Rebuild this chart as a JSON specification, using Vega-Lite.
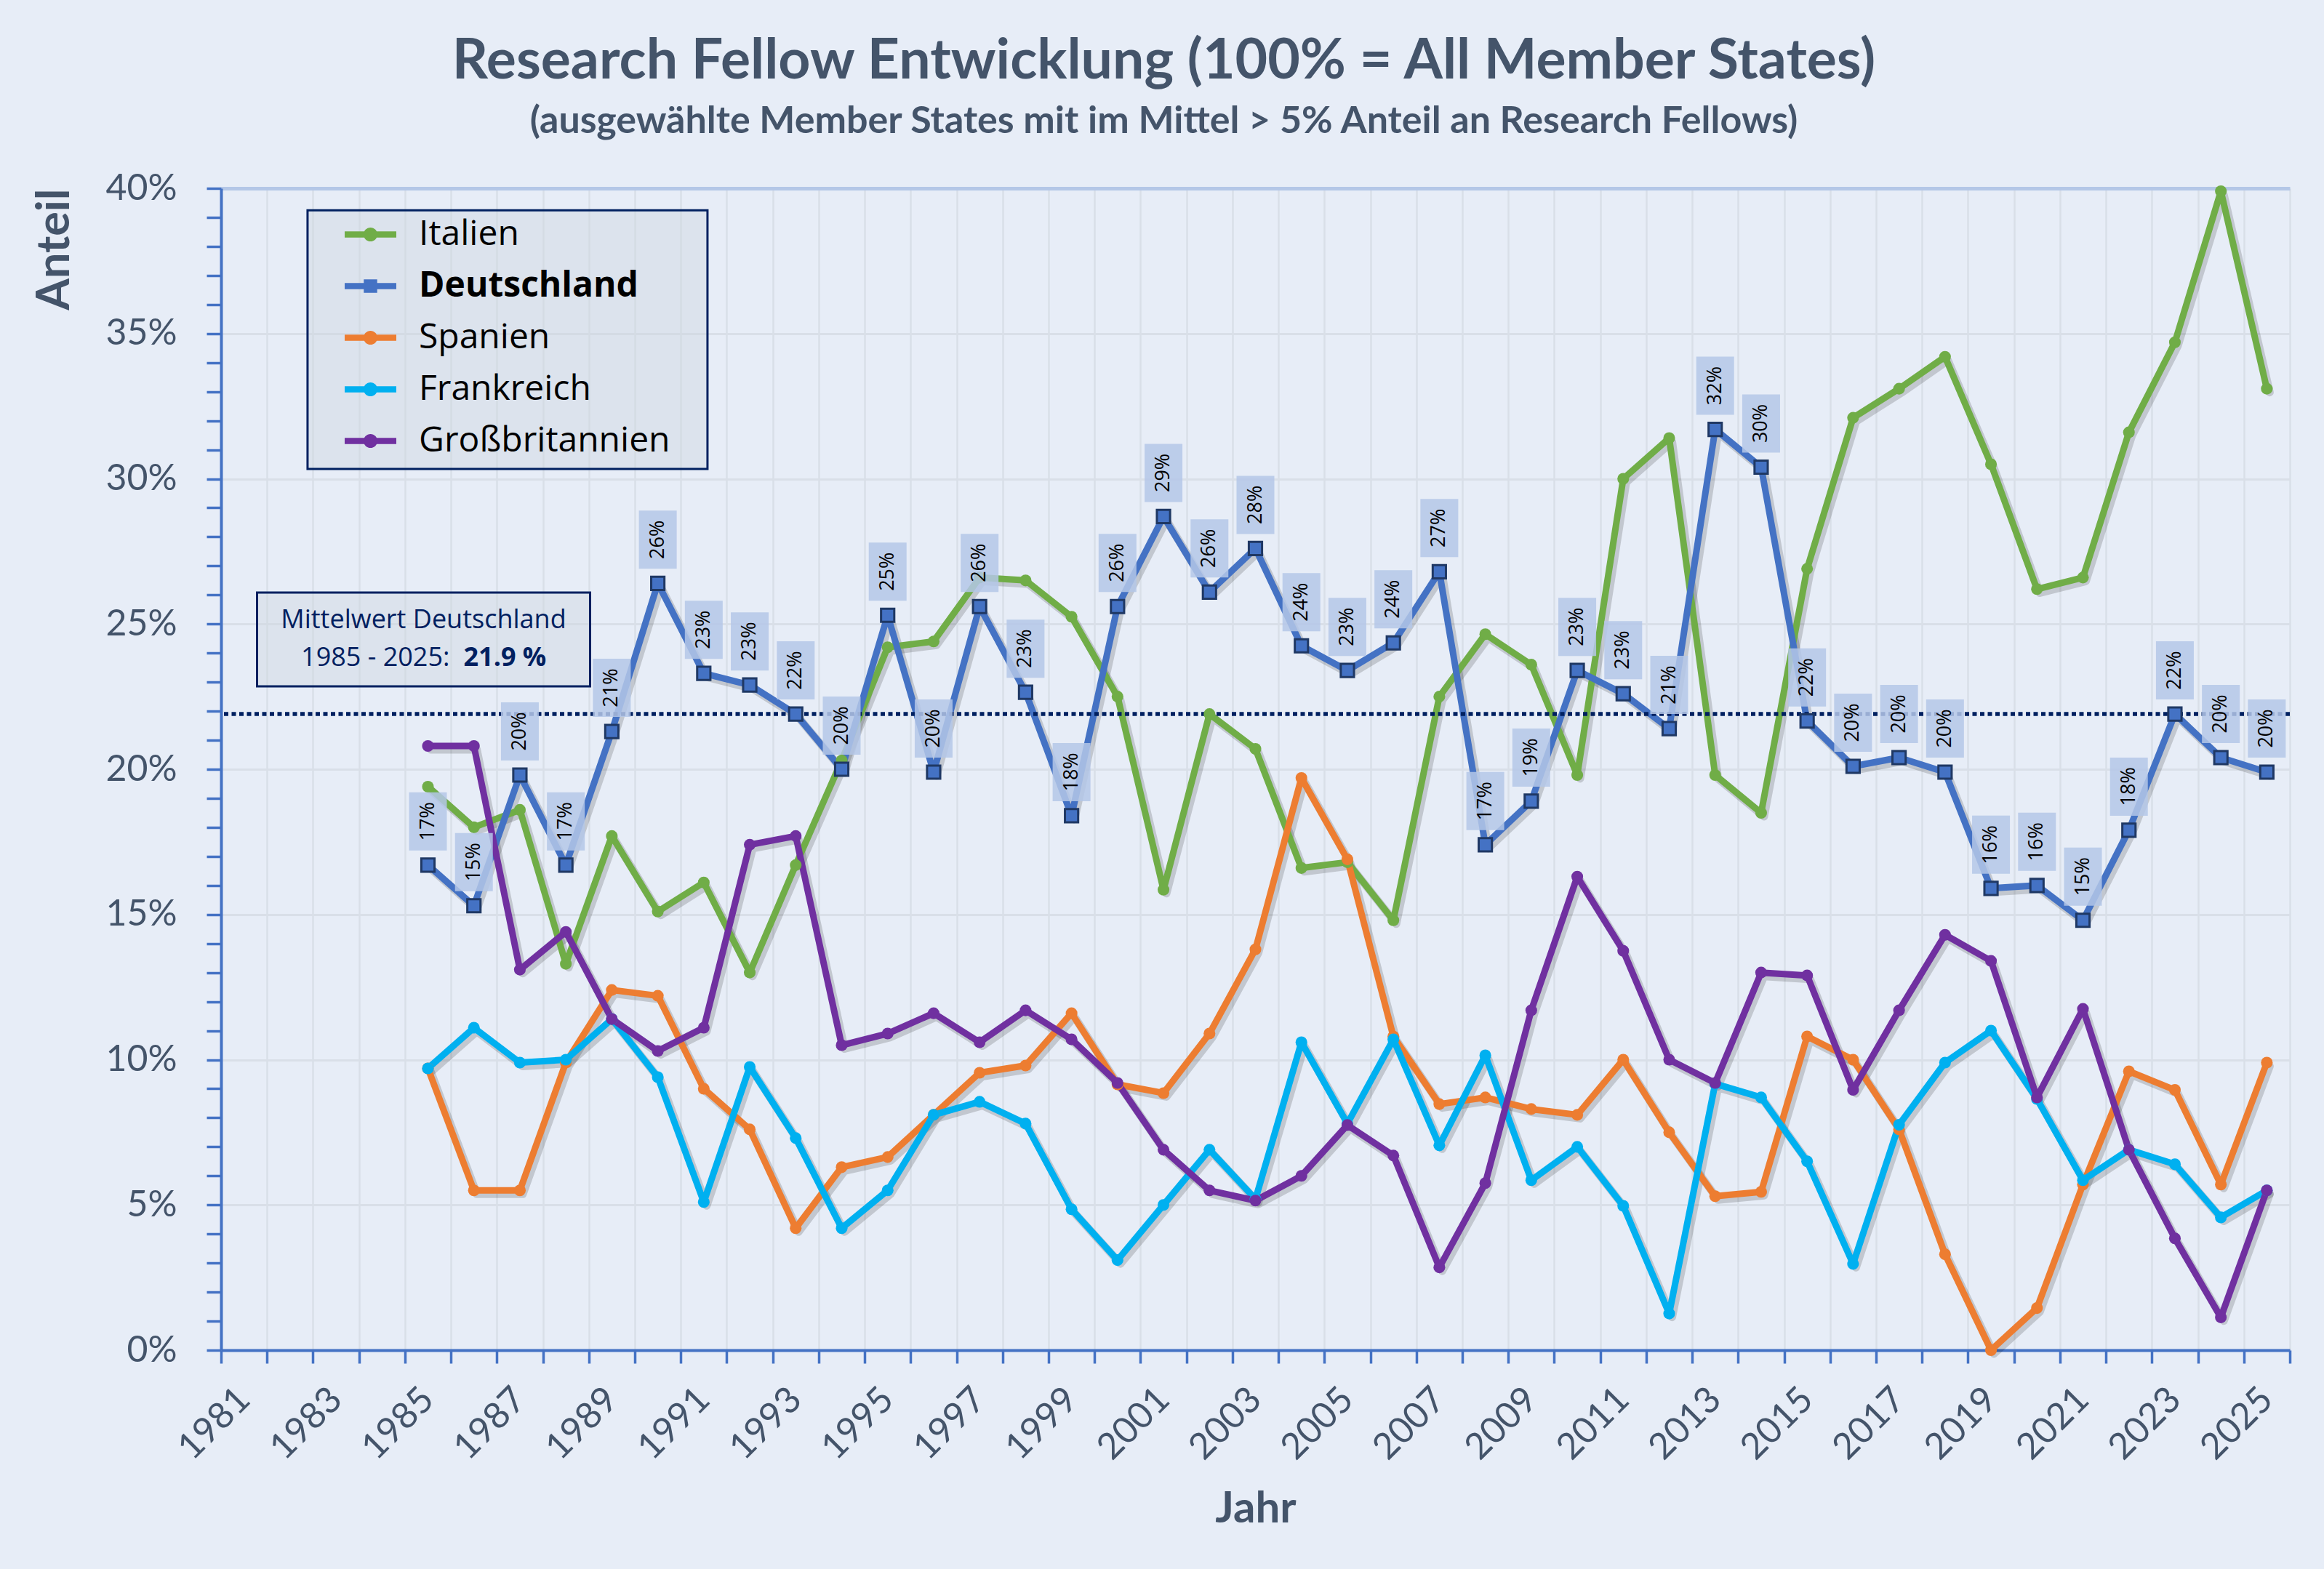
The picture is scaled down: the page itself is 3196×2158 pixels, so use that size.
{
  "$schema": "https://vega.github.io/schema/vega-lite/v6.json",
  "autosize": {"type": "none"},
  "width": 2845,
  "height": 1598,
  "padding": {"left": 304, "top": 259, "right": 47, "bottom": 301},
  "background": "#E7EDF7",
  "title": {
    "text": "Research Fellow Entwicklung (100% = All Member States)",
    "subtitle": "(ausgewählte Member States mit im Mittel > 5% Anteil an Research Fellows)",
    "font": "Lato", "fontSize": 77, "fontWeight": "bold", "color": "#44546A",
    "subtitleFont": "Lato", "subtitleFontSize": 52, "subtitleFontWeight": "bold", "subtitleColor": "#44546A",
    "anchor": "middle", "frame": "group", "dx": -126, "offset": 40, "subtitlePadding": 18
  },
  "datasets": {
    "d": [
      {"year":1985,"c":"Italien","v":0.194},{"year":1986,"c":"Italien","v":0.180},{"year":1987,"c":"Italien","v":0.186},{"year":1988,"c":"Italien","v":0.133},{"year":1989,"c":"Italien","v":0.177},{"year":1990,"c":"Italien","v":0.151},{"year":1991,"c":"Italien","v":0.161},{"year":1992,"c":"Italien","v":0.130},{"year":1993,"c":"Italien","v":0.167},{"year":1994,"c":"Italien","v":0.203},{"year":1995,"c":"Italien","v":0.242},{"year":1996,"c":"Italien","v":0.244},{"year":1997,"c":"Italien","v":0.266},{"year":1998,"c":"Italien","v":0.265},{"year":1999,"c":"Italien","v":0.2525},{"year":2000,"c":"Italien","v":0.225},{"year":2001,"c":"Italien","v":0.1585},{"year":2002,"c":"Italien","v":0.219},{"year":2003,"c":"Italien","v":0.207},{"year":2004,"c":"Italien","v":0.166},{"year":2005,"c":"Italien","v":0.168},{"year":2006,"c":"Italien","v":0.148},{"year":2007,"c":"Italien","v":0.225},{"year":2008,"c":"Italien","v":0.2465},{"year":2009,"c":"Italien","v":0.236},{"year":2010,"c":"Italien","v":0.198},{"year":2011,"c":"Italien","v":0.300},{"year":2012,"c":"Italien","v":0.314},{"year":2013,"c":"Italien","v":0.198},{"year":2014,"c":"Italien","v":0.185},{"year":2015,"c":"Italien","v":0.269},{"year":2016,"c":"Italien","v":0.321},{"year":2017,"c":"Italien","v":0.331},{"year":2018,"c":"Italien","v":0.342},{"year":2019,"c":"Italien","v":0.305},{"year":2020,"c":"Italien","v":0.262},{"year":2021,"c":"Italien","v":0.266},{"year":2022,"c":"Italien","v":0.316},{"year":2023,"c":"Italien","v":0.347},{"year":2024,"c":"Italien","v":0.399},{"year":2025,"c":"Italien","v":0.331},
      {"year":1985,"c":"Deutschland","v":0.167},{"year":1986,"c":"Deutschland","v":0.153},{"year":1987,"c":"Deutschland","v":0.198},{"year":1988,"c":"Deutschland","v":0.167},{"year":1989,"c":"Deutschland","v":0.213},{"year":1990,"c":"Deutschland","v":0.264},{"year":1991,"c":"Deutschland","v":0.233},{"year":1992,"c":"Deutschland","v":0.229},{"year":1993,"c":"Deutschland","v":0.219},{"year":1994,"c":"Deutschland","v":0.200},{"year":1995,"c":"Deutschland","v":0.253},{"year":1996,"c":"Deutschland","v":0.199},{"year":1997,"c":"Deutschland","v":0.256},{"year":1998,"c":"Deutschland","v":0.2265},{"year":1999,"c":"Deutschland","v":0.184},{"year":2000,"c":"Deutschland","v":0.256},{"year":2001,"c":"Deutschland","v":0.287},{"year":2002,"c":"Deutschland","v":0.261},{"year":2003,"c":"Deutschland","v":0.276},{"year":2004,"c":"Deutschland","v":0.2425},{"year":2005,"c":"Deutschland","v":0.234},{"year":2006,"c":"Deutschland","v":0.2435},{"year":2007,"c":"Deutschland","v":0.268},{"year":2008,"c":"Deutschland","v":0.174},{"year":2009,"c":"Deutschland","v":0.189},{"year":2010,"c":"Deutschland","v":0.234},{"year":2011,"c":"Deutschland","v":0.226},{"year":2012,"c":"Deutschland","v":0.214},{"year":2013,"c":"Deutschland","v":0.317},{"year":2014,"c":"Deutschland","v":0.304},{"year":2015,"c":"Deutschland","v":0.2166},{"year":2016,"c":"Deutschland","v":0.201},{"year":2017,"c":"Deutschland","v":0.204},{"year":2018,"c":"Deutschland","v":0.199},{"year":2019,"c":"Deutschland","v":0.159},{"year":2020,"c":"Deutschland","v":0.160},{"year":2021,"c":"Deutschland","v":0.148},{"year":2022,"c":"Deutschland","v":0.179},{"year":2023,"c":"Deutschland","v":0.219},{"year":2024,"c":"Deutschland","v":0.204},{"year":2025,"c":"Deutschland","v":0.199},
      {"year":1985,"c":"Spanien","v":0.097},{"year":1986,"c":"Spanien","v":0.055},{"year":1987,"c":"Spanien","v":0.055},{"year":1988,"c":"Spanien","v":0.099},{"year":1989,"c":"Spanien","v":0.124},{"year":1990,"c":"Spanien","v":0.122},{"year":1991,"c":"Spanien","v":0.090},{"year":1992,"c":"Spanien","v":0.076},{"year":1993,"c":"Spanien","v":0.042},{"year":1994,"c":"Spanien","v":0.063},{"year":1995,"c":"Spanien","v":0.0665},{"year":1996,"c":"Spanien","v":0.081},{"year":1997,"c":"Spanien","v":0.0955},{"year":1998,"c":"Spanien","v":0.098},{"year":1999,"c":"Spanien","v":0.116},{"year":2000,"c":"Spanien","v":0.0915},{"year":2001,"c":"Spanien","v":0.0885},{"year":2002,"c":"Spanien","v":0.109},{"year":2003,"c":"Spanien","v":0.138},{"year":2004,"c":"Spanien","v":0.197},{"year":2005,"c":"Spanien","v":0.169},{"year":2006,"c":"Spanien","v":0.108},{"year":2007,"c":"Spanien","v":0.0847},{"year":2008,"c":"Spanien","v":0.087},{"year":2009,"c":"Spanien","v":0.083},{"year":2010,"c":"Spanien","v":0.081},{"year":2011,"c":"Spanien","v":0.100},{"year":2012,"c":"Spanien","v":0.075},{"year":2013,"c":"Spanien","v":0.053},{"year":2014,"c":"Spanien","v":0.0545},{"year":2015,"c":"Spanien","v":0.108},{"year":2016,"c":"Spanien","v":0.100},{"year":2017,"c":"Spanien","v":0.076},{"year":2018,"c":"Spanien","v":0.033},{"year":2019,"c":"Spanien","v":0.000},{"year":2020,"c":"Spanien","v":0.0145},{"year":2021,"c":"Spanien","v":0.057},{"year":2022,"c":"Spanien","v":0.096},{"year":2023,"c":"Spanien","v":0.0896},{"year":2024,"c":"Spanien","v":0.057},{"year":2025,"c":"Spanien","v":0.099},
      {"year":1985,"c":"Frankreich","v":0.097},{"year":1986,"c":"Frankreich","v":0.111},{"year":1987,"c":"Frankreich","v":0.099},{"year":1988,"c":"Frankreich","v":0.100},{"year":1989,"c":"Frankreich","v":0.114},{"year":1990,"c":"Frankreich","v":0.094},{"year":1991,"c":"Frankreich","v":0.051},{"year":1992,"c":"Frankreich","v":0.0975},{"year":1993,"c":"Frankreich","v":0.073},{"year":1994,"c":"Frankreich","v":0.042},{"year":1995,"c":"Frankreich","v":0.055},{"year":1996,"c":"Frankreich","v":0.081},{"year":1997,"c":"Frankreich","v":0.0855},{"year":1998,"c":"Frankreich","v":0.078},{"year":1999,"c":"Frankreich","v":0.0485},{"year":2000,"c":"Frankreich","v":0.031},{"year":2001,"c":"Frankreich","v":0.050},{"year":2002,"c":"Frankreich","v":0.069},{"year":2003,"c":"Frankreich","v":0.052},{"year":2004,"c":"Frankreich","v":0.106},{"year":2005,"c":"Frankreich","v":0.078},{"year":2006,"c":"Frankreich","v":0.107},{"year":2007,"c":"Frankreich","v":0.0705},{"year":2008,"c":"Frankreich","v":0.1015},{"year":2009,"c":"Frankreich","v":0.0585},{"year":2010,"c":"Frankreich","v":0.070},{"year":2011,"c":"Frankreich","v":0.0497},{"year":2012,"c":"Frankreich","v":0.0126},{"year":2013,"c":"Frankreich","v":0.0917},{"year":2014,"c":"Frankreich","v":0.087},{"year":2015,"c":"Frankreich","v":0.065},{"year":2016,"c":"Frankreich","v":0.0297},{"year":2017,"c":"Frankreich","v":0.0776},{"year":2018,"c":"Frankreich","v":0.099},{"year":2019,"c":"Frankreich","v":0.110},{"year":2020,"c":"Frankreich","v":0.0865},{"year":2021,"c":"Frankreich","v":0.0585},{"year":2022,"c":"Frankreich","v":0.069},{"year":2023,"c":"Frankreich","v":0.064},{"year":2024,"c":"Frankreich","v":0.0457},{"year":2025,"c":"Frankreich","v":0.055},
      {"year":1985,"c":"Großbritannien","v":0.208},{"year":1986,"c":"Großbritannien","v":0.208},{"year":1987,"c":"Großbritannien","v":0.131},{"year":1988,"c":"Großbritannien","v":0.144},{"year":1989,"c":"Großbritannien","v":0.114},{"year":1990,"c":"Großbritannien","v":0.103},{"year":1991,"c":"Großbritannien","v":0.111},{"year":1992,"c":"Großbritannien","v":0.174},{"year":1993,"c":"Großbritannien","v":0.177},{"year":1994,"c":"Großbritannien","v":0.105},{"year":1995,"c":"Großbritannien","v":0.109},{"year":1996,"c":"Großbritannien","v":0.116},{"year":1997,"c":"Großbritannien","v":0.106},{"year":1998,"c":"Großbritannien","v":0.117},{"year":1999,"c":"Großbritannien","v":0.107},{"year":2000,"c":"Großbritannien","v":0.092},{"year":2001,"c":"Großbritannien","v":0.069},{"year":2002,"c":"Großbritannien","v":0.055},{"year":2003,"c":"Großbritannien","v":0.0515},{"year":2004,"c":"Großbritannien","v":0.060},{"year":2005,"c":"Großbritannien","v":0.0775},{"year":2006,"c":"Großbritannien","v":0.067},{"year":2007,"c":"Großbritannien","v":0.0285},{"year":2008,"c":"Großbritannien","v":0.0575},{"year":2009,"c":"Großbritannien","v":0.117},{"year":2010,"c":"Großbritannien","v":0.163},{"year":2011,"c":"Großbritannien","v":0.1375},{"year":2012,"c":"Großbritannien","v":0.100},{"year":2013,"c":"Großbritannien","v":0.092},{"year":2014,"c":"Großbritannien","v":0.130},{"year":2015,"c":"Großbritannien","v":0.129},{"year":2016,"c":"Großbritannien","v":0.0896},{"year":2017,"c":"Großbritannien","v":0.117},{"year":2018,"c":"Großbritannien","v":0.143},{"year":2019,"c":"Großbritannien","v":0.134},{"year":2020,"c":"Großbritannien","v":0.087},{"year":2021,"c":"Großbritannien","v":0.1175},{"year":2022,"c":"Großbritannien","v":0.069},{"year":2023,"c":"Großbritannien","v":0.0385},{"year":2024,"c":"Großbritannien","v":0.0113},{"year":2025,"c":"Großbritannien","v":0.055}
    ]
  },
  "layer": [
    {
      "data": {"name": "d"},
      "mark": {"type": "line", "color": "#000000", "opacity": 0.16, "strokeWidth": 11, "strokeJoin": "round", "strokeCap": "round", "xOffset": 4, "yOffset": 5},
      "encoding": {
        "x": {
          "field": "year", "type": "ordinal", "bandPosition": 0.5,
          "scale": {"type": "band", "paddingInner": 0, "paddingOuter": 0,
            "domain": [1981,1982,1983,1984,1985,1986,1987,1988,1989,1990,1991,1992,1993,1994,1995,1996,1997,1998,1999,2000,2001,2002,2003,2004,2005,2006,2007,2008,2009,2010,2011,2012,2013,2014,2015,2016,2017,2018,2019,2020,2021,2022,2023,2024,2025]},
          "axis": {
            "title": "Jahr", "titleFont": "Lato", "titleFontSize": 60, "titleFontWeight": "bold", "titleColor": "#44546A",
            "titleY": 218, "titleBaseline": "middle",
            "tickBand": "extent", "labelExpr": "datum.value % 2 == 1 ? datum.label : ''",
            "labelAngle": -45, "labelAlign": "right", "labelBaseline": "middle", "labelOverlap": false,
            "labelFont": "Lato", "labelFontSize": 50, "labelColor": "#44546A", "labelPadding": 42,
            "tickColor": "#4472C4", "tickSize": 18, "tickWidth": 3.5,
            "domainColor": "#4472C4", "domainWidth": 4,
            "grid": true, "gridColor": "#D9DFE8", "gridWidth": 2.5
          }
        },
        "y": {
          "field": "v", "type": "quantitative",
          "scale": {"domain": [0, 0.4], "nice": false, "zero": true},
          "axis": {"title": "Anteil", "titleFont": "Lato", "titleFontSize": 63, "titleFontWeight": "bold", "titleColor": "#44546A", "titleX": -229, "titleY": 0, "titleAngle": 270, "titleAlign": "right", "titleBaseline": "middle", "values": [0,0.01,0.02,0.03,0.04,0.05,0.06,0.07,0.08,0.09,0.1,0.11,0.12,0.13,0.14,0.15,0.16,0.17,0.18,0.19,0.2,0.21,0.22,0.23,0.24,0.25,0.26,0.27,0.28,0.29,0.3,0.31,0.32,0.33,0.34,0.35,0.36,0.37,0.38,0.39,0.4], "labelExpr": "round(datum.value*100) % 5 == 0 ? format(datum.value, '.0%') : ''", "labelOverlap": false, "labelFont": "Lato", "labelFontSize": 50, "labelColor": "#44546A", "labelPadding": 41, "labelBaseline": "middle", "tickColor": "#4472C4", "tickSize": 20, "tickWidth": 3.5, "domainColor": "#4472C4", "domainWidth": 4, "grid": true, "gridColor": {"condition": {"test": "round(datum.value*100) == 40", "value": "#B4C7E7"}, "value": "#D9DFE8"}, "gridWidth": {"condition": {"test": "round(datum.value*100) == 40", "value": 5}, "value": 3}, "gridOpacity": {"condition": {"test": "round(datum.value*100) % 5 != 0", "value": 0}, "value": 1}}
        },
        "detail": {"field": "c"}
      }
    },
    {
      "data": {"values": [{}]},
      "mark": {"type": "point", "shape": "M-1,-0.647H1V0.647H-1Z", "size": 302500, "filled": true, "fill": "#CFD6E0", "fillOpacity": 0.45, "stroke": "#002060", "strokeWidth": 3, "strokeOpacity": 1, "opacity": 1, "xOffset": -17},
      "encoding": {"x": {"datum": 1987, "type": "ordinal", "bandPosition": 0.5}, "y": {"datum": 0.3479, "type": "quantitative",
        "axis": {"title": "Anteil", "titleFont": "Lato", "titleFontSize": 63, "titleFontWeight": "bold", "titleColor": "#44546A", "titleX": -229, "titleY": 0, "titleAngle": 270, "titleAlign": "right", "titleBaseline": "middle", "values": [0,0.01,0.02,0.03,0.04,0.05,0.06,0.07,0.08,0.09,0.1,0.11,0.12,0.13,0.14,0.15,0.16,0.17,0.18,0.19,0.2,0.21,0.22,0.23,0.24,0.25,0.26,0.27,0.28,0.29,0.3,0.31,0.32,0.33,0.34,0.35,0.36,0.37,0.38,0.39,0.4], "labelExpr": "round(datum.value*100) % 5 == 0 ? format(datum.value, '.0%') : ''", "labelOverlap": false, "labelFont": "Lato", "labelFontSize": 50, "labelColor": "#44546A", "labelPadding": 41, "labelBaseline": "middle", "tickColor": "#4472C4", "tickSize": 20, "tickWidth": 3.5, "domainColor": "#4472C4", "domainWidth": 4, "grid": true, "gridColor": {"condition": {"test": "round(datum.value*100) == 40", "value": "#B4C7E7"}, "value": "#D9DFE8"}, "gridWidth": {"condition": {"test": "round(datum.value*100) == 40", "value": 5}, "value": 3}, "gridOpacity": {"condition": {"test": "round(datum.value*100) % 5 != 0", "value": 0}, "value": 1}}}}
    },
    {
      "data": {"values": [{}]},
      "mark": {"type": "point", "shape": "M-1,-0.2817H1V0.2817H-1Z", "size": 209764, "filled": true, "fill": "#CFD6E0", "fillOpacity": 0.45, "stroke": "#002060", "strokeWidth": 3, "strokeOpacity": 1, "opacity": 1, "xOffset": -6},
      "encoding": {"x": {"datum": 1985, "type": "ordinal", "bandPosition": 0.5}, "y": {"datum": 0.2447, "type": "quantitative",
        "axis": {"title": "Anteil", "titleFont": "Lato", "titleFontSize": 63, "titleFontWeight": "bold", "titleColor": "#44546A", "titleX": -229, "titleY": 0, "titleAngle": 270, "titleAlign": "right", "titleBaseline": "middle", "values": [0,0.01,0.02,0.03,0.04,0.05,0.06,0.07,0.08,0.09,0.1,0.11,0.12,0.13,0.14,0.15,0.16,0.17,0.18,0.19,0.2,0.21,0.22,0.23,0.24,0.25,0.26,0.27,0.28,0.29,0.3,0.31,0.32,0.33,0.34,0.35,0.36,0.37,0.38,0.39,0.4], "labelExpr": "round(datum.value*100) % 5 == 0 ? format(datum.value, '.0%') : ''", "labelOverlap": false, "labelFont": "Lato", "labelFontSize": 50, "labelColor": "#44546A", "labelPadding": 41, "labelBaseline": "middle", "tickColor": "#4472C4", "tickSize": 20, "tickWidth": 3.5, "domainColor": "#4472C4", "domainWidth": 4, "grid": true, "gridColor": {"condition": {"test": "round(datum.value*100) == 40", "value": "#B4C7E7"}, "value": "#D9DFE8"}, "gridWidth": {"condition": {"test": "round(datum.value*100) == 40", "value": 5}, "value": 3}, "gridOpacity": {"condition": {"test": "round(datum.value*100) % 5 != 0", "value": 0}, "value": 1}}}}
    },
    {
      "data": {"values": [{}]},
      "mark": {"type": "text", "text": "Mittelwert Deutschland", "font": "Open Sans", "fontSize": 36, "color": "#002060", "align": "center", "baseline": "middle", "dx": -6},
      "encoding": {"x": {"datum": 1985, "type": "ordinal", "bandPosition": 0.5}, "y": {"datum": 0.2513, "type": "quantitative",
        "axis": {"title": "Anteil", "titleFont": "Lato", "titleFontSize": 63, "titleFontWeight": "bold", "titleColor": "#44546A", "titleX": -229, "titleY": 0, "titleAngle": 270, "titleAlign": "right", "titleBaseline": "middle", "values": [0,0.01,0.02,0.03,0.04,0.05,0.06,0.07,0.08,0.09,0.1,0.11,0.12,0.13,0.14,0.15,0.16,0.17,0.18,0.19,0.2,0.21,0.22,0.23,0.24,0.25,0.26,0.27,0.28,0.29,0.3,0.31,0.32,0.33,0.34,0.35,0.36,0.37,0.38,0.39,0.4], "labelExpr": "round(datum.value*100) % 5 == 0 ? format(datum.value, '.0%') : ''", "labelOverlap": false, "labelFont": "Lato", "labelFontSize": 50, "labelColor": "#44546A", "labelPadding": 41, "labelBaseline": "middle", "tickColor": "#4472C4", "tickSize": 20, "tickWidth": 3.5, "domainColor": "#4472C4", "domainWidth": 4, "grid": true, "gridColor": {"condition": {"test": "round(datum.value*100) == 40", "value": "#B4C7E7"}, "value": "#D9DFE8"}, "gridWidth": {"condition": {"test": "round(datum.value*100) == 40", "value": 5}, "value": 3}, "gridOpacity": {"condition": {"test": "round(datum.value*100) % 5 != 0", "value": 0}, "value": 1}}}}
    },
    {
      "data": {"values": [{}]},
      "mark": {"type": "text", "text": "1985 - 2025:", "font": "Open Sans", "fontSize": 36, "color": "#002060", "align": "right", "baseline": "middle", "dx": 30},
      "encoding": {"x": {"datum": 1985, "type": "ordinal", "bandPosition": 0.5}, "y": {"datum": 0.2384, "type": "quantitative",
        "axis": {"title": "Anteil", "titleFont": "Lato", "titleFontSize": 63, "titleFontWeight": "bold", "titleColor": "#44546A", "titleX": -229, "titleY": 0, "titleAngle": 270, "titleAlign": "right", "titleBaseline": "middle", "values": [0,0.01,0.02,0.03,0.04,0.05,0.06,0.07,0.08,0.09,0.1,0.11,0.12,0.13,0.14,0.15,0.16,0.17,0.18,0.19,0.2,0.21,0.22,0.23,0.24,0.25,0.26,0.27,0.28,0.29,0.3,0.31,0.32,0.33,0.34,0.35,0.36,0.37,0.38,0.39,0.4], "labelExpr": "round(datum.value*100) % 5 == 0 ? format(datum.value, '.0%') : ''", "labelOverlap": false, "labelFont": "Lato", "labelFontSize": 50, "labelColor": "#44546A", "labelPadding": 41, "labelBaseline": "middle", "tickColor": "#4472C4", "tickSize": 20, "tickWidth": 3.5, "domainColor": "#4472C4", "domainWidth": 4, "grid": true, "gridColor": {"condition": {"test": "round(datum.value*100) == 40", "value": "#B4C7E7"}, "value": "#D9DFE8"}, "gridWidth": {"condition": {"test": "round(datum.value*100) == 40", "value": 5}, "value": 3}, "gridOpacity": {"condition": {"test": "round(datum.value*100) % 5 != 0", "value": 0}, "value": 1}}}}
    },
    {
      "data": {"values": [{}]},
      "mark": {"type": "text", "text": "21.9 %", "font": "Open Sans", "fontSize": 36, "fontWeight": "bold", "color": "#002060", "align": "left", "baseline": "middle", "dx": 49},
      "encoding": {"x": {"datum": 1985, "type": "ordinal", "bandPosition": 0.5}, "y": {"datum": 0.2384, "type": "quantitative",
        "axis": {"title": "Anteil", "titleFont": "Lato", "titleFontSize": 63, "titleFontWeight": "bold", "titleColor": "#44546A", "titleX": -229, "titleY": 0, "titleAngle": 270, "titleAlign": "right", "titleBaseline": "middle", "values": [0,0.01,0.02,0.03,0.04,0.05,0.06,0.07,0.08,0.09,0.1,0.11,0.12,0.13,0.14,0.15,0.16,0.17,0.18,0.19,0.2,0.21,0.22,0.23,0.24,0.25,0.26,0.27,0.28,0.29,0.3,0.31,0.32,0.33,0.34,0.35,0.36,0.37,0.38,0.39,0.4], "labelExpr": "round(datum.value*100) % 5 == 0 ? format(datum.value, '.0%') : ''", "labelOverlap": false, "labelFont": "Lato", "labelFontSize": 50, "labelColor": "#44546A", "labelPadding": 41, "labelBaseline": "middle", "tickColor": "#4472C4", "tickSize": 20, "tickWidth": 3.5, "domainColor": "#4472C4", "domainWidth": 4, "grid": true, "gridColor": {"condition": {"test": "round(datum.value*100) == 40", "value": "#B4C7E7"}, "value": "#D9DFE8"}, "gridWidth": {"condition": {"test": "round(datum.value*100) == 40", "value": 5}, "value": 3}, "gridOpacity": {"condition": {"test": "round(datum.value*100) % 5 != 0", "value": 0}, "value": 1}}}}
    },
    {
      "data": {"name": "d"},
      "mark": {"type": "line", "strokeWidth": 9, "strokeJoin": "round", "strokeCap": "round"},
      "encoding": {
        "x": {"field": "year", "type": "ordinal", "bandPosition": 0.5},
        "y": {"field": "v", "type": "quantitative",
          "axis": {"title": "Anteil", "titleFont": "Lato", "titleFontSize": 63, "titleFontWeight": "bold", "titleColor": "#44546A", "titleX": -229, "titleY": 0, "titleAngle": 270, "titleAlign": "right", "titleBaseline": "middle", "values": [0,0.01,0.02,0.03,0.04,0.05,0.06,0.07,0.08,0.09,0.1,0.11,0.12,0.13,0.14,0.15,0.16,0.17,0.18,0.19,0.2,0.21,0.22,0.23,0.24,0.25,0.26,0.27,0.28,0.29,0.3,0.31,0.32,0.33,0.34,0.35,0.36,0.37,0.38,0.39,0.4], "labelExpr": "round(datum.value*100) % 5 == 0 ? format(datum.value, '.0%') : ''", "labelOverlap": false, "labelFont": "Lato", "labelFontSize": 50, "labelColor": "#44546A", "labelPadding": 41, "labelBaseline": "middle", "tickColor": "#4472C4", "tickSize": 20, "tickWidth": 3.5, "domainColor": "#4472C4", "domainWidth": 4, "grid": true, "gridColor": {"condition": {"test": "round(datum.value*100) == 40", "value": "#B4C7E7"}, "value": "#D9DFE8"}, "gridWidth": {"condition": {"test": "round(datum.value*100) == 40", "value": 5}, "value": 3}, "gridOpacity": {"condition": {"test": "round(datum.value*100) % 5 != 0", "value": 0}, "value": 1}}},
        "color": {
          "field": "c", "type": "nominal",
          "scale": {"domain": ["Italien", "Deutschland", "Spanien", "Frankreich", "Großbritannien"],
                    "range": ["#70AD47", "#4472C4", "#ED7D31", "#00B0F0", "#7030A0"]},
          "legend": {
            "title": null, "orient": "none", "legendX": 170, "legendY": 28, "direction": "vertical",
            "padding": 0, "rowPadding": 11, "symbolSize": 5041, "symbolStrokeWidth": 0,
            "symbolType": "M-1,-0.12H1V0.12H-1Z M-0.27,0A0.27,0.27,0,1,1,0.27,0A0.27,0.27,0,1,1,-0.27,0Z",
            "labelFont": "Open Sans", "labelFontSize": 48, "labelColor": "#000000", "labelOffset": 31, "labelLimit": 700, "labelBaseline": "middle",
            "encode": {
              "symbols": {"update": {
                "shape": {"signal": "datum.value === 'Deutschland' ? 'M-1,-0.12H1V0.12H-1Z M-0.26,-0.26H0.26V0.26H-0.26Z' : 'M-1,-0.12H1V0.12H-1Z M-0.27,0A0.27,0.27,0,1,1,0.27,0A0.27,0.27,0,1,1,-0.27,0Z'"},
                "fill": {"signal": "scale('color', datum.value)"},
                "fillOpacity": {"value": 1},
                "opacity": {"value": 1},
                "strokeWidth": {"value": 0}
              }},
              "labels": {"update": {
                "fontWeight": {"signal": "datum.value === 'Deutschland' ? 'bold' : 'normal'"}
              }}
            }
          }
        },
        "detail": {"field": "c"}
      }
    },
    {
      "data": {"values": [{}]},
      "mark": {"type": "rule", "color": "#002060", "strokeWidth": 5.5, "strokeDash": [6, 4.5]},
      "encoding": {"y": {"datum": 0.219, "type": "quantitative",
        "axis": {"title": "Anteil", "titleFont": "Lato", "titleFontSize": 63, "titleFontWeight": "bold", "titleColor": "#44546A", "titleX": -229, "titleY": 0, "titleAngle": 270, "titleAlign": "right", "titleBaseline": "middle", "values": [0,0.01,0.02,0.03,0.04,0.05,0.06,0.07,0.08,0.09,0.1,0.11,0.12,0.13,0.14,0.15,0.16,0.17,0.18,0.19,0.2,0.21,0.22,0.23,0.24,0.25,0.26,0.27,0.28,0.29,0.3,0.31,0.32,0.33,0.34,0.35,0.36,0.37,0.38,0.39,0.4], "labelExpr": "round(datum.value*100) % 5 == 0 ? format(datum.value, '.0%') : ''", "labelOverlap": false, "labelFont": "Lato", "labelFontSize": 50, "labelColor": "#44546A", "labelPadding": 41, "labelBaseline": "middle", "tickColor": "#4472C4", "tickSize": 20, "tickWidth": 3.5, "domainColor": "#4472C4", "domainWidth": 4, "grid": true, "gridColor": {"condition": {"test": "round(datum.value*100) == 40", "value": "#B4C7E7"}, "value": "#D9DFE8"}, "gridWidth": {"condition": {"test": "round(datum.value*100) == 40", "value": 5}, "value": 3}, "gridOpacity": {"condition": {"test": "round(datum.value*100) % 5 != 0", "value": 0}, "value": 1}}}}
    },
    {
      "data": {"name": "d"},
      "transform": [{"filter": "datum.c != 'Deutschland'"}],
      "mark": {"type": "point", "filled": true, "size": 260, "opacity": 1, "shape": "circle"},
      "encoding": {
        "x": {"field": "year", "type": "ordinal", "bandPosition": 0.5},
        "y": {"field": "v", "type": "quantitative",
          "axis": {"title": "Anteil", "titleFont": "Lato", "titleFontSize": 63, "titleFontWeight": "bold", "titleColor": "#44546A", "titleX": -229, "titleY": 0, "titleAngle": 270, "titleAlign": "right", "titleBaseline": "middle", "values": [0,0.01,0.02,0.03,0.04,0.05,0.06,0.07,0.08,0.09,0.1,0.11,0.12,0.13,0.14,0.15,0.16,0.17,0.18,0.19,0.2,0.21,0.22,0.23,0.24,0.25,0.26,0.27,0.28,0.29,0.3,0.31,0.32,0.33,0.34,0.35,0.36,0.37,0.38,0.39,0.4], "labelExpr": "round(datum.value*100) % 5 == 0 ? format(datum.value, '.0%') : ''", "labelOverlap": false, "labelFont": "Lato", "labelFontSize": 50, "labelColor": "#44546A", "labelPadding": 41, "labelBaseline": "middle", "tickColor": "#4472C4", "tickSize": 20, "tickWidth": 3.5, "domainColor": "#4472C4", "domainWidth": 4, "grid": true, "gridColor": {"condition": {"test": "round(datum.value*100) == 40", "value": "#B4C7E7"}, "value": "#D9DFE8"}, "gridWidth": {"condition": {"test": "round(datum.value*100) == 40", "value": 5}, "value": 3}, "gridOpacity": {"condition": {"test": "round(datum.value*100) % 5 != 0", "value": 0}, "value": 1}}},
        "color": {"field": "c", "type": "nominal"}
      }
    },
    {
      "data": {"name": "d"},
      "transform": [{"filter": "datum.c == 'Deutschland'"}],
      "mark": {"type": "point", "shape": "square", "filled": true, "size": 330, "fill": "#4472C4", "stroke": "#1F3864", "strokeWidth": 3, "opacity": 1, "fillOpacity": 1, "strokeOpacity": 1},
      "encoding": {
        "x": {"field": "year", "type": "ordinal", "bandPosition": 0.5},
        "y": {"field": "v", "type": "quantitative",
          "axis": {"title": "Anteil", "titleFont": "Lato", "titleFontSize": 63, "titleFontWeight": "bold", "titleColor": "#44546A", "titleX": -229, "titleY": 0, "titleAngle": 270, "titleAlign": "right", "titleBaseline": "middle", "values": [0,0.01,0.02,0.03,0.04,0.05,0.06,0.07,0.08,0.09,0.1,0.11,0.12,0.13,0.14,0.15,0.16,0.17,0.18,0.19,0.2,0.21,0.22,0.23,0.24,0.25,0.26,0.27,0.28,0.29,0.3,0.31,0.32,0.33,0.34,0.35,0.36,0.37,0.38,0.39,0.4], "labelExpr": "round(datum.value*100) % 5 == 0 ? format(datum.value, '.0%') : ''", "labelOverlap": false, "labelFont": "Lato", "labelFontSize": 50, "labelColor": "#44546A", "labelPadding": 41, "labelBaseline": "middle", "tickColor": "#4472C4", "tickSize": 20, "tickWidth": 3.5, "domainColor": "#4472C4", "domainWidth": 4, "grid": true, "gridColor": {"condition": {"test": "round(datum.value*100) == 40", "value": "#B4C7E7"}, "value": "#D9DFE8"}, "gridWidth": {"condition": {"test": "round(datum.value*100) == 40", "value": 5}, "value": 3}, "gridOpacity": {"condition": {"test": "round(datum.value*100) % 5 != 0", "value": 0}, "value": 1}}}
      }
    },
    {
      "data": {"name": "d"},
      "transform": [{"filter": "datum.c == 'Deutschland'"}],
      "mark": {"type": "point", "shape": "M-0.65,-1H0.65V1H-0.65Z", "size": 6400, "filled": true, "fill": "#B4C7E7", "fillOpacity": 0.85, "strokeWidth": 0, "yOffset": -60},
      "encoding": {
        "x": {"field": "year", "type": "ordinal", "bandPosition": 0.5},
        "y": {"field": "v", "type": "quantitative",
          "axis": {"title": "Anteil", "titleFont": "Lato", "titleFontSize": 63, "titleFontWeight": "bold", "titleColor": "#44546A", "titleX": -229, "titleY": 0, "titleAngle": 270, "titleAlign": "right", "titleBaseline": "middle", "values": [0,0.01,0.02,0.03,0.04,0.05,0.06,0.07,0.08,0.09,0.1,0.11,0.12,0.13,0.14,0.15,0.16,0.17,0.18,0.19,0.2,0.21,0.22,0.23,0.24,0.25,0.26,0.27,0.28,0.29,0.3,0.31,0.32,0.33,0.34,0.35,0.36,0.37,0.38,0.39,0.4], "labelExpr": "round(datum.value*100) % 5 == 0 ? format(datum.value, '.0%') : ''", "labelOverlap": false, "labelFont": "Lato", "labelFontSize": 50, "labelColor": "#44546A", "labelPadding": 41, "labelBaseline": "middle", "tickColor": "#4472C4", "tickSize": 20, "tickWidth": 3.5, "domainColor": "#4472C4", "domainWidth": 4, "grid": true, "gridColor": {"condition": {"test": "round(datum.value*100) == 40", "value": "#B4C7E7"}, "value": "#D9DFE8"}, "gridWidth": {"condition": {"test": "round(datum.value*100) == 40", "value": 5}, "value": 3}, "gridOpacity": {"condition": {"test": "round(datum.value*100) % 5 != 0", "value": 0}, "value": 1}}}
      }
    },
    {
      "data": {"name": "d"},
      "transform": [{"filter": "datum.c == 'Deutschland'"}],
      "mark": {"type": "text", "angle": 270, "align": "center", "baseline": "middle", "font": "Open Sans", "fontSize": 27, "color": "#000000", "yOffset": -60},
      "encoding": {
        "x": {"field": "year", "type": "ordinal", "bandPosition": 0.5},
        "y": {"field": "v", "type": "quantitative",
          "axis": {"title": "Anteil", "titleFont": "Lato", "titleFontSize": 63, "titleFontWeight": "bold", "titleColor": "#44546A", "titleX": -229, "titleY": 0, "titleAngle": 270, "titleAlign": "right", "titleBaseline": "middle", "values": [0,0.01,0.02,0.03,0.04,0.05,0.06,0.07,0.08,0.09,0.1,0.11,0.12,0.13,0.14,0.15,0.16,0.17,0.18,0.19,0.2,0.21,0.22,0.23,0.24,0.25,0.26,0.27,0.28,0.29,0.3,0.31,0.32,0.33,0.34,0.35,0.36,0.37,0.38,0.39,0.4], "labelExpr": "round(datum.value*100) % 5 == 0 ? format(datum.value, '.0%') : ''", "labelOverlap": false, "labelFont": "Lato", "labelFontSize": 50, "labelColor": "#44546A", "labelPadding": 41, "labelBaseline": "middle", "tickColor": "#4472C4", "tickSize": 20, "tickWidth": 3.5, "domainColor": "#4472C4", "domainWidth": 4, "grid": true, "gridColor": {"condition": {"test": "round(datum.value*100) == 40", "value": "#B4C7E7"}, "value": "#D9DFE8"}, "gridWidth": {"condition": {"test": "round(datum.value*100) == 40", "value": 5}, "value": 3}, "gridOpacity": {"condition": {"test": "round(datum.value*100) % 5 != 0", "value": 0}, "value": 1}}},
        "text": {"field": "v", "type": "quantitative", "format": ".0%"}
      }
    }
  ],
  "config": {
    "view": {"stroke": null, "fill": "#E7EDF7"},
    "font": "Lato"
  }
}
